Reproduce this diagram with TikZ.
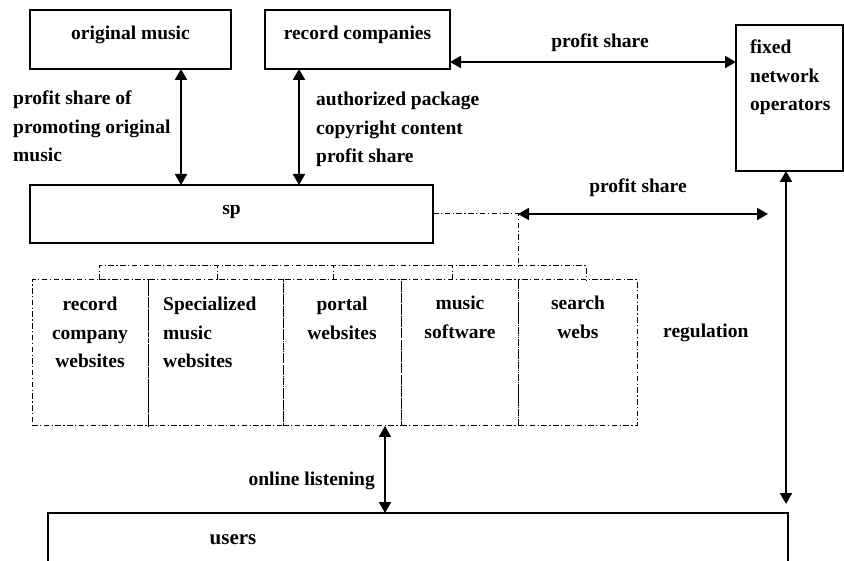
\documentclass[tikz,border=0pt]{standalone}
\usepackage{fontspec}
\setmainfont{Liberation Serif}
\usetikzlibrary{arrows.meta}
% stacked lines, baseline of the node = baseline of the first line
\newcommand\cstack[1]{\begin{tabular}[t]{@{}c@{}}#1\end{tabular}}
\newcommand\lstack[1]{\begin{tabular}[t]{@{}l@{}}#1\end{tabular}}

\begin{document}
\begin{tikzpicture}[x=1pt,y=-1pt,
  box/.style={draw, rectangle, line width=1.3pt, inner sep=0pt, outer sep=0pt},
  dashdot/.style={dash pattern=on 5.5pt off 2.5pt on 1.2pt off 2.5pt},
  webbox/.style={draw, rectangle, line width=1pt, dashdot, inner sep=0pt, outer sep=0pt},
  link/.style={line width=1pt, dashdot},
  txt/.style={inner sep=0pt, anchor=base, font=\fontsize{19.5}{28.5}\selectfont\bfseries},
  ltxt/.style={txt, anchor=base west},
  dbl/.style={line width=2pt, {Triangle[length=11pt,width=12pt]}-{Triangle[length=11pt,width=12pt]}}
]
\useasboundingbox (0,0) rectangle (844,561);
\clip (0,0) rectangle (844,561);

% solid boxes
\node[box, minimum width=201, minimum height=59] (orig) at (130.5,39.5) {};
\node[box, minimum width=185, minimum height=59] (rec) at (357.5,39.5) {};
\node[box, minimum width=107, minimum height=146] (fixed) at (789.5,98) {};
\node[box, minimum width=403, minimum height=58] (sp) at (231.5,214) {};
\node[box, minimum width=740, minimum height=87] (users) at (418,556.5) {};

% website boxes
\node[webbox, minimum width=116, minimum height=146] (w1) at (90,353) {};
\node[webbox, minimum width=135, minimum height=146] (w2) at (215.5,353) {};
\node[webbox, minimum width=118, minimum height=146] (w3) at (342,353) {};
\node[webbox, minimum width=117, minimum height=146] (w4) at (459.5,353) {};
\node[webbox, minimum width=119, minimum height=146] (w5) at (577.5,353) {};

% texts
\node[txt] (origT) at (130.5,40) {original music};
\node[txt] (recT) at (357.5,40) {record companies};
\node[txt] (ps1) at (600,48) {profit share};
\node[ltxt] (promo) at (13,105) {\lstack{profit share of\\promoting original\\music}};
\node[ltxt] (auth) at (316,106) {\lstack{authorized package\\copyright content\\profit share}};
\node[ltxt] (fixedT) at (750,54) {\lstack{fixed\\network\\operators}};
\node[txt] (spT) at (231.5,215) {sp};
\node[txt] (ps2) at (638,193) {profit share};
\node[txt] (w1T) at (90,311) {\cstack{record\\company\\websites}};
\node[ltxt] (w2T) at (163,311) {\lstack{Specialized\\music\\websites}};
\node[txt] (w3T) at (342,311) {\cstack{portal\\websites}};
\node[txt] (w4T) at (460,310) {\cstack{music\\software}};
\node[txt] (w5T) at (578,310) {\cstack{search\\webs}};
\node[ltxt] (reg) at (663,338) {regulation};
\node[txt, anchor=base east] (online) at (375,485) {online listening};
\node[txt, font=\fontsize{21}{25}\selectfont\bfseries] (usersT) at (233,544) {users};

% solid connectors
\draw[dbl] (orig.south -| 181,0) -- (sp.north -| 181,0);
\draw[dbl] (rec.south -| 299,0) -- (sp.north -| 299,0);
\draw[dbl] (rec.east |- 0,62) -- (fixed.west |- 0,62);
\draw[dbl, shorten >=9pt] (fixed.south -| 786,0) -- (users.north -| 786,0);
\draw[dbl] (w3.south -| 385,0) -- (users.north -| 385,0);

% sp to the website group
\coordinate (hub) at (518,214);
\coordinate (bus) at (518,266);
\coordinate (psend) at (768,214);
\draw[link] (sp.east |- hub) -- (hub) -- (bus);
\draw[dbl] (hub) -- (psend);
\draw[link] (w1.north -| 99,0) -- (99,266) -- (586,266) -- (w5.north -| 586,0);
\draw[link] (w2.north -| 217,0) -- (217,266);
\draw[link] (w3.north -| 333,0) -- (333,266);
\draw[link] (w4.north -| 452,0) -- (452,266);
\end{tikzpicture}
\end{document}
